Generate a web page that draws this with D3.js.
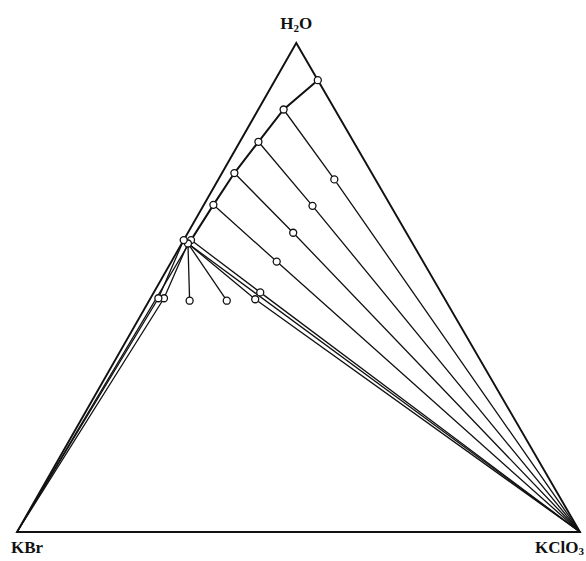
<!DOCTYPE html>
<html>
<head>
<meta charset="utf-8">
<script src="https://cdn.jsdelivr.net/npm/d3@7"></script>
<style>
  body { margin: 0; background: #fff; }
  text { font-family: "Liberation Serif", "DejaVu Serif", serif; font-weight: bold; fill: #111; }
</style>
</head>
<body>
<svg id="chart"></svg>
<script>
// compositions in weight %, water is the rest
const liquidKBr    = [0,   9.1, 16.9, 24.4, 31.4, 39.0, 39.9, 40.3];
const liquidKClO3  = [7.6, 4.5,  3.3,  2.2,  1.7,  1.3,  1.1,  0];

const residueKBr    = [7.3, 13.9, 20.1, 26.0, 32.1, 33.7, 38.9, 45.5, 49.8, 50.8];
const residueKClO3  = [20.6, 19.4, 18.7, 18.7, 18.9, 18.7, 13.8, 7.2, 2.4, 1.4];
const residueLiquid = [1, 2, 3, 4, 5, 6, 6, 6, 6, 7];
const residueSolid  = ["KClO3", "KClO3", "KClO3", "KClO3", "KClO3", "KClO3", null, null, "KBr", "KBr"];

const width = 586, height = 561;

const svg = d3.select('#chart')
  .attr('width', width)
  .attr('height', height);

// ternary -> plane: u along the base, v up towards water
const apexU = 0.496;
const x = d3.scaleLinear().domain([0, 1]).range([17, 580]);
const y = d3.scaleLinear().domain([0, 1]).range([532, 43]);

function project(kbr, kclo3) {
  const w = (100 - kbr - kclo3) / 100;
  const c = kclo3 / 100;
  return [x(c + w * apexU), y(w)];
}

const vertex = {
  H2O: project(0, 0),
  KBr: project(100, 0),
  KClO3: project(0, 100)
};

const liquids = liquidKBr.map((d, i) => project(d, liquidKClO3[i]));
const residues = residueKBr.map((d, i) => project(d, residueKClO3[i]));

const line = d3.line();

// triangle
svg.append('path')
  .attr('d', line([vertex.H2O, vertex.KBr, vertex.KClO3]) + 'Z')
  .attr('fill', 'none')
  .attr('stroke', '#111')
  .attr('stroke-width', 1.9)
  .attr('stroke-linejoin', 'miter');

// tie lines: liquid -> residue -> solid
svg.append('g')
  .selectAll('path')
  .data(residues)
  .enter()
  .append('path')
  .attr('d', function(d, i) {
    const pts = [liquids[residueLiquid[i]], d];
    if (residueSolid[i]) pts.push(vertex[residueSolid[i]]);
    return line(pts);
  })
  .attr('fill', 'none')
  .attr('stroke', '#111')
  .attr('stroke-width', 1.3);

// extra tie lines from the invariant liquids
svg.append('g')
  .selectAll('path')
  .data([[5, 'KBr'], [6, 'KClO3']])
  .enter()
  .append('path')
  .attr('d', d => line([liquids[d[0]], vertex[d[1]]]))
  .attr('fill', 'none')
  .attr('stroke', '#111')
  .attr('stroke-width', 1.3);

// solubility curve
svg.append('path')
  .attr('d', line(liquids))
  .attr('fill', 'none')
  .attr('stroke', '#111')
  .attr('stroke-width', 2);

svg.append('g')
  .selectAll('circle')
  .data(liquids.concat(residues))
  .enter()
  .append('circle')
  .attr('cx', d => d[0])
  .attr('cy', d => d[1])
  .attr('r', 3.5)
  .attr('fill', '#fff')
  .attr('stroke', '#111')
  .attr('stroke-width', 1.3);

// labels
const labelH2O = svg.append('text')
  .attr('x', vertex.H2O[0])
  .attr('y', 29)
  .attr('text-anchor', 'middle')
  .attr('font-size', 17);
labelH2O.append('tspan').text('H');
labelH2O.append('tspan').attr('font-size', 11).attr('dy', 3).text('2');
labelH2O.append('tspan').attr('dy', -3).text('O');

svg.append('text')
  .attr('x', 11)
  .attr('y', 553)
  .attr('font-size', 17)
  .text('KBr');

const labelKClO3 = svg.append('text')
  .attr('x', 584)
  .attr('y', 553)
  .attr('text-anchor', 'end')
  .attr('font-size', 17);
labelKClO3.append('tspan').text('KClO');
labelKClO3.append('tspan').attr('font-size', 11).attr('dy', 2).text('3');
</script>
</body>
</html>
